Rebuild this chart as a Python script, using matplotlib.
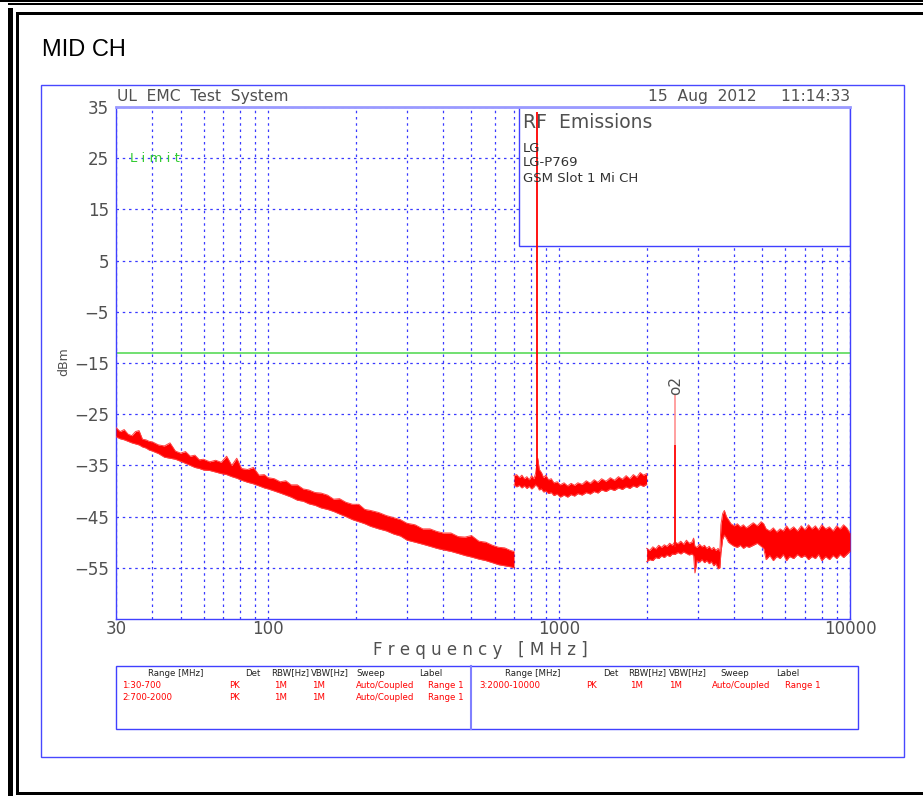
import matplotlib
matplotlib.use("Agg")
import matplotlib.pyplot as plt
from matplotlib.patches import Rectangle
from matplotlib.lines import Line2D

# ---------------- data ----------------
f1 = [30, 31, 32, 33, 34, 35, 36, 37, 38, 39, 40, 42, 44, 46, 48, 50, 52, 54, 56, 58, 60,
      63, 66, 69, 72, 75, 78, 81, 85, 89, 93, 97, 100, 105, 110, 115, 120, 126, 132, 138,
      145, 152, 160, 168, 176, 185, 195, 205, 215, 225, 240, 255, 270, 285, 300, 320, 340,
      360, 380, 400, 425, 450, 475, 500, 530, 560, 590, 620, 650, 680, 700]
hi1 = [-27.6, -28.4, -28.0, -28.9, -29.2, -28.4, -28.2, -29.9, -30.0, -30.3, -30.4, -31.0,
       -31.2, -30.6, -32.2, -32.6, -32.3, -33.2, -33.0, -33.9, -33.8, -34.3, -34.0, -34.4,
       -33.2, -35.0, -33.6, -35.6, -35.8, -35.4, -36.9, -36.8, -37.4, -37.6, -38.2, -38.0,
       -38.8, -38.8, -39.6, -39.8, -40.3, -40.4, -40.8, -41.6, -41.5, -42.2, -42.6, -42.6,
       -43.6, -43.8, -44.2, -44.8, -45.2, -45.6, -46.3, -46.6, -47.4, -47.4, -47.9, -48.2,
       -48.2, -48.9, -49.0, -48.7, -49.8, -50.0, -50.6, -51.0, -51.1, -51.6, -51.8]
lo1 = [-29.4, -29.8, -30.0, -30.3, -30.6, -30.8, -31.0, -31.4, -31.6, -32.0, -32.2, -32.7,
       -33.4, -33.6, -33.8, -34.2, -34.6, -35.0, -35.4, -35.6, -35.9, -36.0, -36.3, -36.6,
       -36.8, -37.2, -37.5, -37.9, -38.3, -38.6, -39.0, -39.4, -39.6, -40.0, -40.4, -40.8,
       -41.2, -41.8, -42.0, -42.5, -42.8, -43.3, -43.6, -44.0, -44.5, -45.0, -45.6, -46.0,
       -46.4, -46.9, -47.4, -47.8, -48.4, -48.8, -49.6, -50.0, -50.4, -50.8, -51.2, -51.5,
       -51.8, -52.2, -52.6, -52.9, -53.3, -53.6, -54.0, -54.4, -54.6, -54.8, -55.0]

f2 = [700, 715, 730, 745, 760, 775, 790, 805, 820, 830, 845, 855, 870, 885, 900, 920, 940,
      960, 985, 1010, 1040, 1070, 1100, 1130, 1160, 1200, 1240, 1280, 1320, 1360, 1400,
      1450, 1500, 1550, 1600, 1650, 1700, 1750, 1800, 1850, 1900, 1950, 2000]
hi2 = [-37.0, -36.8, -37.4, -36.9, -37.6, -37.2, -37.8, -37.0, -37.6, -36.6, -33.6, -35.8,
       -36.4, -37.4, -36.9, -37.8, -37.6, -38.4, -38.2, -38.8, -38.4, -39.0, -38.5, -38.9,
       -38.4, -38.7, -38.0, -38.5, -37.8, -38.3, -37.6, -38.1, -37.4, -37.9, -37.2, -37.7,
       -37.0, -37.6, -36.8, -37.3, -36.4, -36.9, -36.6]
lo2 = [-38.8, -39.2, -38.9, -39.4, -39.0, -39.5, -39.1, -39.6, -39.2, -38.8, -39.2, -39.8,
       -39.6, -40.2, -40.0, -40.5, -40.3, -40.9, -40.6, -41.2, -40.8, -41.2, -40.7, -41.0,
       -40.5, -40.8, -40.3, -40.6, -40.1, -40.4, -39.8, -40.1, -39.6, -39.9, -39.4, -39.7,
       -39.2, -39.5, -39.0, -39.3, -38.8, -39.1, -38.7]

f3 = [2000, 2050, 2100, 2150, 2200, 2250, 2300, 2350, 2400, 2450, 2500, 2560, 2620, 2680,
      2740, 2800, 2860, 2900, 2930, 2980, 3040, 3100, 3160, 3220, 3280, 3340, 3400, 3460,
      3520, 3570, 3600, 3650, 3700, 3760, 3820, 3900, 4000, 4100, 4200, 4300, 4400, 4500,
      4650, 4800, 4950, 5050, 5150, 5300, 5450, 5600, 5750, 5900, 6050, 6200, 6400, 6600,
      6800, 7000, 7200, 7400, 7600, 7800, 8000, 8250, 8500, 8750, 9000, 9250, 9500, 9750,
      10000]
hi3 = [-51.2, -51.6, -50.9, -51.3, -50.6, -51.0, -50.5, -50.8, -50.2, -50.6, -49.9, -50.3,
       -49.8, -50.4, -49.6, -50.2, -50.0, -49.2, -50.8, -51.0, -50.4, -50.9, -50.6, -51.2,
       -50.8, -51.4, -51.0, -51.6, -51.2, -51.8, -46.6, -44.4, -43.8, -45.0, -45.6, -46.4,
       -46.8, -46.4, -47.0, -46.6, -47.2, -46.8, -46.2, -46.8, -46.0, -46.4, -47.4, -47.8,
       -47.2, -48.0, -47.4, -47.8, -46.8, -47.6, -47.0, -47.8, -46.8, -47.6, -46.6, -47.4,
       -46.8, -47.6, -46.6, -47.4, -47.0, -47.8, -46.8, -47.4, -46.6, -47.2, -48.2]
lo3 = [-53.8, -53.4, -53.6, -53.0, -53.2, -52.7, -53.0, -52.5, -52.8, -52.3, -52.4, -52.0,
       -52.3, -51.9, -52.2, -52.5, -52.3, -52.6, -56.0, -53.6, -53.9, -53.4, -54.0, -53.6,
       -54.2, -53.8, -54.6, -54.2, -55.2, -55.0, -52.0, -49.4, -48.6, -49.2, -50.0, -50.4,
       -50.8, -51.0, -50.6, -51.2, -50.8, -51.0, -50.6, -50.2, -50.8, -51.2, -53.4, -52.6,
       -53.6, -52.8, -53.2, -52.4, -53.6, -52.8, -53.2, -52.4, -53.0, -52.6, -53.4, -52.8,
       -53.2, -52.4, -53.6, -52.8, -53.4, -52.6, -53.2, -52.4, -53.0, -52.4, -51.8]

carrier_f, carrier_base, carrier_peak = 836.6, -38.0, 34.0
harm_f, harm_base, harm_solid, harm_peak = 2510.0, -51.0, -31.0, -21.0
limit_dbm = -13.0

x_ticks = [30, 100, 1000, 10000]
x_tick_labels = ["30", "100", "1000", "10000"]
y_ticks = [35, 25, 15, 5, -5, -15, -25, -35, -45, -55]
y_tick_labels = ["35", "25", "15", "5", "\u22125", "\u221215", "\u221225", "\u221235", "\u221245", "\u221255"]

table_header = ["Range [MHz]", "Det", "RBW[Hz]", "VBW[Hz]", "Sweep", "Label"]
table_left_rows = [["1:30-700", "PK", "1M", "1M", "Auto/Coupled", "Range 1"],
                   ["2:700-2000", "PK", "1M", "1M", "Auto/Coupled", "Range 1"]]
table_right_rows = [["3:2000-10000", "PK", "1M", "1M", "Auto/Coupled", "Range 1"]]

# ---------------- figure ----------------
W, H = 923, 796
fig = plt.figure(figsize=(W / 100, H / 100), dpi=100)
fig.patch.set_facecolor("white")

def fx(x):
    return x / W

def fy(y):
    return 1 - y / H

def frect(x0, y0, x1, y1, **kw):
    fig.add_artist(Rectangle((fx(x0), fy(y1)), fx(x1) - fx(x0), fy(y0) - fy(y1),
                             transform=fig.transFigure, **kw))

# black frame
frect(0, 0, W, 2, color="black", lw=0)
frect(8, 3, W, 5, color="black", lw=0)
frect(8, 8, 13, H, color="black", lw=0)
frect(16, 12, W, 15, color="black", lw=0)
frect(16, 12, 19, 795, color="black", lw=0)
frect(16, 792, W, 795, color="black", lw=0)

# blue outer frame
frect(41, 85, 904, 757, fill=False, edgecolor="#4848ff", lw=1.0)

fig.text(fx(42), fy(50), "MID CH", fontsize=17, family="Liberation Sans",
         va="center", ha="left", color="black")

gray = "#505050"
blue = "#3a3aff"

# axes
L, R, T, B = 116, 850, 107, 619
ax = fig.add_axes([fx(L), fy(B), fx(R) - fx(L), fy(T) - fy(B)])
ax.set_xscale("log")
ax.set_xlim(30, 10000)
ax.set_ylim(-65, 35)
ax.set_xticks(x_ticks)
ax.set_xticklabels(x_tick_labels)
minor = [m * d for d in (10, 100, 1000) for m in range(2, 10)
         if 30 < m * d < 10000 and m * d not in (100, 1000)]
ax.set_xticks(minor, minor=True)
ax.set_xticklabels([], minor=True)
ax.set_yticks(y_ticks)
ax.set_yticklabels(y_tick_labels)
ax.tick_params(which="both", length=0, colors=gray, labelsize=12)
ax.tick_params(axis="x", pad=1)
ax.tick_params(axis="y", pad=5)
ax.set_axisbelow(True)
ax.grid(True, which="both", axis="x", color=blue, ls=(0, (2, 3)), lw=0.9)
ax.grid(True, which="major", axis="y", color=blue, ls=(0, (2, 3)), lw=0.9)
for s in ax.spines.values():
    s.set_color("#4040ff")
    s.set_linewidth(1.0)
ax.spines["top"].set_color("#9a9aff")
ax.spines["top"].set_linewidth(2.0)

# info box
ax.add_patch(Rectangle(((519 - L) / (R - L), (B - 246) / (B - T)),
                       (R - 519) / (R - L), (246 - T) / (B - T),
                       transform=ax.transAxes, facecolor="white", edgecolor="#4040ff",
                       lw=1.0, zorder=1.5))

# limit line
ax.axhline(limit_dbm, color="#66dd66", lw=1.3, zorder=2)

red = "#ff0000"
for f, hi, lo in ((f1, hi1, lo1), (f2, hi2, lo2), (f3, hi3, lo3)):
    ax.fill_between(f, lo, hi, color=red, lw=0, zorder=3)
    ax.plot(f, hi, color="#ff4040", lw=0.7, zorder=3)
    ax.plot(f, lo, color="#ff4040", lw=0.7, zorder=3)

ax.vlines(carrier_f, carrier_base, carrier_peak, color=red, lw=1.3, zorder=3)
ax.vlines(harm_f, harm_base, harm_peak, color="#ff9090", lw=1.2, zorder=3)
ax.vlines(harm_f, harm_base, harm_solid, color=red, lw=1.2, zorder=3)
ax.text(harm_f, harm_peak - 0.3, "o2", rotation=90, ha="center", va="bottom",
        fontsize=11, color=gray, zorder=4)

# Limit label
ax.text(33.5, 25, "L i m i t", color="#33cc33", fontsize=9.5, va="center", ha="left", zorder=4)

# info box text
fig.text(fx(523), fy(123), "RF  Emissions", fontsize=13.5, color=gray, va="center", ha="left")
for txt, yy in (("LG", 148), ("LG-P769", 163), ("GSM Slot 1 Mi CH", 178)):
    fig.text(fx(523), fy(yy), txt, fontsize=9.5, color="#333333", va="center", ha="left")

# header
fig.text(fx(117), fy(97), "UL  EMC  Test  System", fontsize=11.2, color=gray, va="center", ha="left")
fig.text(fx(850), fy(97), "15  Aug  2012     11:14:33", fontsize=11.2, color=gray,
         va="center", ha="right")

# y label and x label
fig.text(fx(64), fy(362), "dBm", rotation=90, fontsize=9, color=gray, va="center", ha="center")
fig.text(fx(480), fy(650), "F r e q u e n c y   [ M H z ]", fontsize=12, color=gray,
         va="center", ha="center")

# bottom table
frect(116, 666, 858, 729, fill=False, edgecolor="#4040ff", lw=1.0)
fig.add_artist(Line2D([fx(471), fx(471)], [fy(666), fy(729)], transform=fig.transFigure,
                      color="#8080ff", lw=1.5))
tfs = 6.2
left_hx = [148, 245, 271, 311, 356, 419]
left_cx = [122, 229, 274, 312, 356, 428]
right_hx = [505, 603, 628, 669, 720, 776]
right_cx = [479, 586, 630, 669, 712, 785]
for hx, h in zip(left_hx, table_header):
    fig.text(fx(hx), fy(673), h, fontsize=tfs, color="#222222", va="center", ha="left")
for hx, h in zip(right_hx, table_header):
    fig.text(fx(hx), fy(673), h, fontsize=tfs, color="#222222", va="center", ha="left")
for ri, row in enumerate(table_left_rows):
    for cx, c in zip(left_cx, row):
        fig.text(fx(cx), fy(686 + 12 * ri), c, fontsize=tfs, color=red, va="center", ha="left")
for ri, row in enumerate(table_right_rows):
    for cx, c in zip(right_cx, row):
        fig.text(fx(cx), fy(686 + 12 * ri), c, fontsize=tfs, color=red, va="center", ha="left")

fig.savefig("out.png", dpi=100)
